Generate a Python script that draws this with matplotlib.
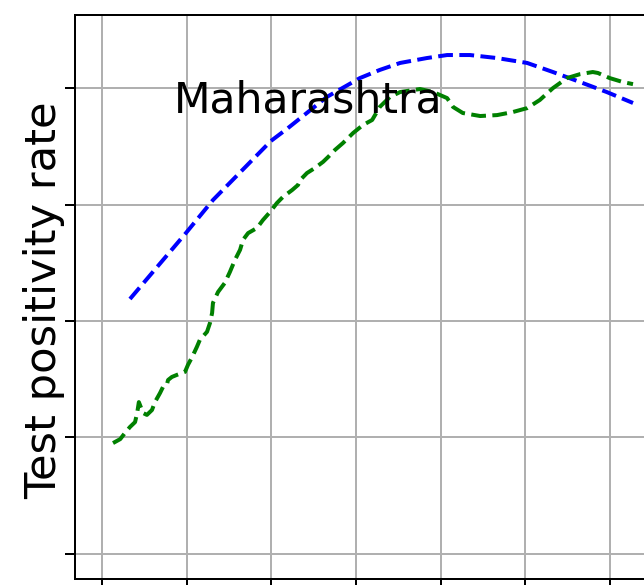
import numpy as np
import matplotlib
matplotlib.use("Agg")
import matplotlib.pyplot as plt

# days since start of window
obs_day = [2.6, 4.3, 5.4, 6.6, 7.8, 8.3, 8.7, 9.7, 10.6, 11.8, 12.5, 13.7, 14.4,
           15.3, 15.6, 16.5, 17.7, 18.9, 19.6, 20.3, 21.3, 22.4, 23.1, 24.8, 25.5,
           26.0, 26.2, 27.4, 29.0, 30.2, 31.4, 32.6, 33.3, 34.5, 36.6, 38.0, 39.7,
           41.3, 42.7, 44.9, 46.3, 46.8, 48.4, 50.3, 52.2, 53.4, 55.0, 56.9, 59.3,
           61.6, 63.8, 65.6, 68.0, 70.4, 75.1, 78.2, 81.5, 82.9, 85.2, 89.3, 93.3,
           97.0, 100.4, 103.4, 106.5, 109.8, 112.9, 115.9, 117.1, 119.9, 123.0, 125.4]
# observed test positivity (7-day average)
obs_tpr = [0.0976, 0.0993, 0.1019, 0.1045, 0.1066, 0.1105, 0.1152, 0.1105, 0.1097,
           0.1118, 0.1152, 0.1191, 0.1217, 0.1226, 0.1247, 0.1260, 0.1269, 0.1277,
           0.1282, 0.1312, 0.1346, 0.1389, 0.1419, 0.1454, 0.1492, 0.1535, 0.1578,
           0.1625, 0.1664, 0.1711, 0.1763, 0.1806, 0.1849, 0.1878, 0.1900, 0.1934,
           0.1969, 0.2007, 0.2033, 0.2063, 0.2085, 0.2106, 0.2136, 0.2158, 0.2184,
           0.2205, 0.2235, 0.2265, 0.2308, 0.2342, 0.2364, 0.2420, 0.2463, 0.2484,
           0.2497, 0.2484, 0.2458, 0.2420, 0.2394, 0.2381, 0.2385, 0.2398, 0.2415,
           0.2450, 0.2501, 0.2544, 0.2561, 0.2570, 0.2566, 0.2544, 0.2527, 0.2518]

# model fit
fit_day = [6.6, 19.8, 26.2, 39.9, 43.9, 53.1, 60.9, 65.6, 70.4, 76.7, 81.5,
           86.9, 93.3, 100.4, 106.5, 112.9, 119.2, 125.4]
fit_tpr = [0.1595, 0.1878, 0.2020, 0.2274, 0.2329, 0.2463, 0.2544, 0.2579, 0.2609,
           0.2630, 0.2643, 0.2643, 0.2630, 0.2609, 0.2570, 0.2527, 0.2484, 0.2437]

fig = plt.figure(figsize=(644 / 180, 585 / 180), dpi=180)
ax = fig.add_axes([75 / 644, 6 / 585, 605 / 644, 564 / 585])

ax.plot(fit_day, fit_tpr, "b--", lw=1.6)
ax.plot(obs_day, obs_tpr, "g--", lw=1.6)

ax.set_xticks(np.arange(0, 141, 20))
ax.set_yticks([0.05, 0.10, 0.15, 0.20, 0.25])
# limits after ticks so the tick list doesn't widen the view
ax.set_xlim(-6.38, 136.5)
ax.set_ylim(0.0392, 0.2815)
ax.tick_params(labelleft=False, labelbottom=False, length=4, width=0.8)
ax.grid(True, color="#b0b0b0", lw=0.8)
ax.spines["right"].set_visible(False)

ax.text(16.9, 0.2394, "Maharashtra", fontsize=17, va="baseline", ha="left")
ax.set_ylabel("Test positivity rate", fontsize=17.3)
ax.yaxis.set_label_coords(-0.016, 0.495)

fig.savefig("out.png", dpi=180)
